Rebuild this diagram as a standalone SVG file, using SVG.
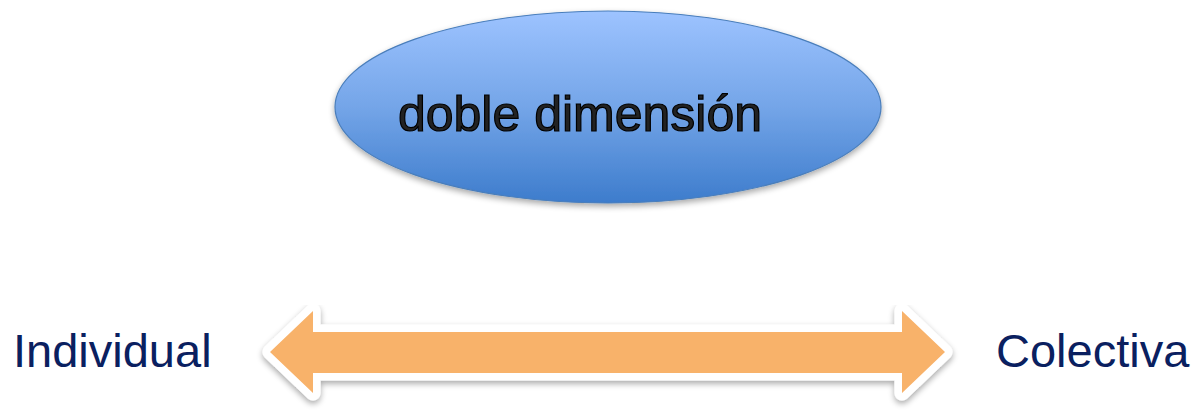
<svg xmlns="http://www.w3.org/2000/svg" width="1197" height="410" viewBox="0 0 1197 410">
<defs>
<linearGradient id="blue" x1="0" y1="0" x2="0" y2="1">
<stop offset="0" stop-color="#9dc3ff"/>
<stop offset="0.5" stop-color="#74a5e8"/>
<stop offset="1" stop-color="#3d7ccc"/>
</linearGradient>
<filter id="sh" x="-10%" y="-10%" width="120%" height="130%">
<feGaussianBlur in="SourceAlpha" stdDeviation="3"/>
<feOffset dx="0" dy="3" result="b"/>
<feComponentTransfer><feFuncA type="linear" slope="0.35"/></feComponentTransfer>
<feMerge><feMergeNode/><feMergeNode in="SourceGraphic"/></feMerge>
</filter>
<style>
.lbl{font-family:"Liberation Sans",Arial,sans-serif;font-size:47px;fill:#0a2060}
.title{font-family:"Liberation Sans",Arial,sans-serif;font-size:50px;fill:#222;stroke:#000;stroke-width:1.2px}
</style>
</defs>
<g id="node-ellipse">
<ellipse cx="608" cy="107" rx="273" ry="96" fill="url(#blue)" stroke="#4a7ebb" stroke-width="1.2" filter="url(#sh)"/>
<text class="title" x="580" y="131" text-anchor="middle">doble dimensión</text>
</g>
<g id="connectors">
<polygon points="270,352 313,311 313,332 902,332 902,311 945,352 902,393 902,373 313,373 313,393" fill="#f8b26a" stroke="#ffffff" stroke-width="15" stroke-linejoin="round" paint-order="stroke" filter="url(#sh)"/>
</g>
<g id="node-individual">
<text class="lbl" x="13" y="367">Individual</text>
</g>
<g id="node-colectiva">
<text class="lbl" x="996" y="367">Colectiva</text>
</g>
</svg>
